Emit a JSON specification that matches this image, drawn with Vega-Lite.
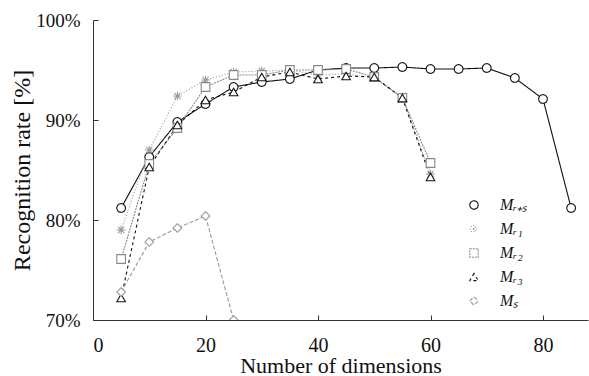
{
  "$schema": "https://vega.github.io/schema/vega-lite/v6.json",
  "width": 495,
  "height": 300,
  "autosize": {"type": "none"},
  "padding": {"left": 93, "top": 20, "right": 1, "bottom": 56},
  "background": "white",
  "config": {
    "view": {"stroke": null},
    "font": "Liberation Serif",
    "axis": {"grid": false, "domainColor": "#333", "tickColor": "#333", "labelColor": "#111", "titleColor": "#111", "labelFont": "Liberation Serif", "titleFont": "Liberation Serif", "titleFontWeight": "normal"}
  },
  "data": {
    "values": [
      {"s": "Mᵣ₊ₛ", "d": 5, "r": 81.2}, {"s": "Mᵣ₊ₛ", "d": 10, "r": 86.3}, {"s": "Mᵣ₊ₛ", "d": 15, "r": 89.8},
      {"s": "Mᵣ₊ₛ", "d": 20, "r": 91.6}, {"s": "Mᵣ₊ₛ", "d": 25, "r": 93.3}, {"s": "Mᵣ₊ₛ", "d": 30, "r": 93.8},
      {"s": "Mᵣ₊ₛ", "d": 35, "r": 94.1}, {"s": "Mᵣ₊ₛ", "d": 40, "r": 95.0}, {"s": "Mᵣ₊ₛ", "d": 45, "r": 95.2},
      {"s": "Mᵣ₊ₛ", "d": 50, "r": 95.2}, {"s": "Mᵣ₊ₛ", "d": 55, "r": 95.3}, {"s": "Mᵣ₊ₛ", "d": 60, "r": 95.1},
      {"s": "Mᵣ₊ₛ", "d": 65, "r": 95.1}, {"s": "Mᵣ₊ₛ", "d": 70, "r": 95.2}, {"s": "Mᵣ₊ₛ", "d": 75, "r": 94.2},
      {"s": "Mᵣ₊ₛ", "d": 80, "r": 92.1}, {"s": "Mᵣ₊ₛ", "d": 85, "r": 81.2},

      {"s": "Mᵣ₁", "d": 5, "r": 79.0}, {"s": "Mᵣ₁", "d": 10, "r": 87.0}, {"s": "Mᵣ₁", "d": 15, "r": 92.4},
      {"s": "Mᵣ₁", "d": 20, "r": 94.0}, {"s": "Mᵣ₁", "d": 25, "r": 94.8}, {"s": "Mᵣ₁", "d": 30, "r": 94.9},
      {"s": "Mᵣ₁", "d": 35, "r": 95.0}, {"s": "Mᵣ₁", "d": 40, "r": 94.5}, {"s": "Mᵣ₁", "d": 45, "r": 94.6},
      {"s": "Mᵣ₁", "d": 50, "r": 94.2}, {"s": "Mᵣ₁", "d": 55, "r": 92.3}, {"s": "Mᵣ₁", "d": 60, "r": 84.6},

      {"s": "Mᵣ₂", "d": 5, "r": 76.1}, {"s": "Mᵣ₂", "d": 10, "r": 85.6}, {"s": "Mᵣ₂", "d": 15, "r": 89.2},
      {"s": "Mᵣ₂", "d": 20, "r": 93.3}, {"s": "Mᵣ₂", "d": 25, "r": 94.5}, {"s": "Mᵣ₂", "d": 30, "r": 94.5},
      {"s": "Mᵣ₂", "d": 35, "r": 95.0}, {"s": "Mᵣ₂", "d": 40, "r": 95.0}, {"s": "Mᵣ₂", "d": 45, "r": 95.1},
      {"s": "Mᵣ₂", "d": 50, "r": 94.3}, {"s": "Mᵣ₂", "d": 55, "r": 92.2}, {"s": "Mᵣ₂", "d": 60, "r": 85.7},

      {"s": "Mᵣ₃", "d": 5, "r": 72.2}, {"s": "Mᵣ₃", "d": 10, "r": 85.3}, {"s": "Mᵣ₃", "d": 15, "r": 89.5},
      {"s": "Mᵣ₃", "d": 20, "r": 92.0}, {"s": "Mᵣ₃", "d": 25, "r": 92.8}, {"s": "Mᵣ₃", "d": 30, "r": 94.3},
      {"s": "Mᵣ₃", "d": 35, "r": 94.8}, {"s": "Mᵣ₃", "d": 40, "r": 94.1}, {"s": "Mᵣ₃", "d": 45, "r": 94.4},
      {"s": "Mᵣ₃", "d": 50, "r": 94.3}, {"s": "Mᵣ₃", "d": 55, "r": 92.2}, {"s": "Mᵣ₃", "d": 60, "r": 84.3},

      {"s": "Mₛ", "d": 5, "r": 72.8}, {"s": "Mₛ", "d": 10, "r": 77.8}, {"s": "Mₛ", "d": 15, "r": 79.2},
      {"s": "Mₛ", "d": 20, "r": 80.4}, {"s": "Mₛ", "d": 25, "r": 70.0}
    ]
  },
  "encoding": {
    "x": {
      "field": "d", "type": "quantitative",
      "scale": {"domain": [0, 88], "nice": false},
      "axis": {"values": [0, 20, 40, 60, 80], "tickSize": -5, "labelPadding": 20, "labelFontSize": 20,
               "title": "Number of dimensions", "titleFontSize": 22, "titleBaseline": "alphabetic",
               "titleY": 52}
    },
    "y": {
      "field": "r", "type": "quantitative",
      "scale": {"domain": [70, 100], "nice": false},
      "axis": {"values": [70, 80, 90, 100], "tickSize": -5, "labelPadding": 18, "labelFontSize": 19,
               "labelExpr": "datum.value + '%'",
               "title": "Recognition rate [%]", "titleFontSize": 24, "titleBaseline": "middle", "titleX": -71}
    },
    "color": {
      "field": "s", "type": "nominal",
      "scale": {"domain": ["Mᵣ₊ₛ", "Mᵣ₁", "Mᵣ₂", "Mᵣ₃", "Mₛ"], "range": ["#111111", "#999999", "#888888", "#111111", "#999999"]},
      "legend": {
        "title": null, "orient": "none", "legendX": 373, "legendY": 177, "padding": 0,
        "labelFont": "Liberation Serif", "labelFontStyle": "italic", "labelFontSize": 16, "labelColor": "#111",
        "symbolSize": 70, "symbolStrokeWidth": 1.1, "symbolFillColor": "white",
        "rowPadding": 8, "labelOffset": 18
      }
    },
    "strokeDash": {
      "field": "s", "type": "nominal",
      "scale": {"domain": ["Mᵣ₊ₛ", "Mᵣ₁", "Mᵣ₂", "Mᵣ₃", "Mₛ"], "range": [[1, 0], [1, 2], [2, 1], [3, 3], [4, 2]]}
    }
  },
  "layer": [
    {
      "mark": {"type": "line", "strokeWidth": 1.1, "clip": true}
    },
    {
      "mark": {"type": "point", "filled": false, "fill": "white", "fillOpacity": 1, "size": 75, "strokeWidth": 1.1, "clip": true},
      "encoding": {
        "strokeDash": {"value": [1, 0]},
        "shape": {
          "field": "s", "type": "nominal",
          "scale": {"domain": ["Mᵣ₊ₛ", "Mᵣ₁", "Mᵣ₂", "Mᵣ₃", "Mₛ"],
                    "range": ["circle", "M-1,0L1,0M0,-1L0,1M-0.7,-0.7L0.7,0.7M-0.7,0.7L0.7,-0.7", "square", "triangle-up", "diamond"]}
        }
      }
    }
  ]
}
